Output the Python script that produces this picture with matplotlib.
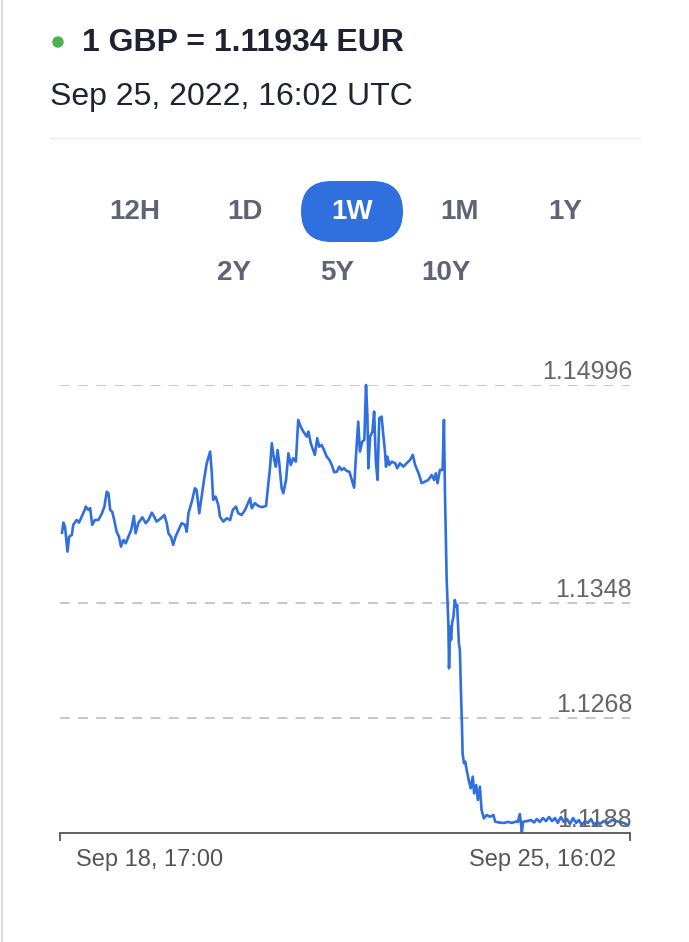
import matplotlib.pyplot as plt
from matplotlib.patches import FancyBboxPatch, Circle

plt.rcParams['font.family'] = ['Liberation Sans', 'DejaVu Sans']

W, H = 689, 942

title = '1 GBP = 1.11934 EUR'
subtitle = 'Sep 25, 2022, 16:02 UTC'
row1 = ['12H', '1D', '1W', '1M', '1Y']
row2 = ['2Y', '5Y', '10Y']
active = '1W'
x_labels = ['Sep 18, 17:00', 'Sep 25, 16:02']
grid_values = [1.14996, 1.1348, 1.1268, 1.1188]
grid_labels = ['1.14996', '1.1348', '1.1268', '1.1188']

# hours since Sep 18, 17:00 UTC
hours = [0.0, 0.4, 0.9, 1.6, 2.1, 2.9, 3.3, 4.3, 5.0, 5.8, 6.6, 7.0, 7.8, 8.3, 8.9, 9.7,
         10.7, 11.7, 12.5, 13.2, 13.7, 14.2, 14.8, 15.4, 16.1, 16.8, 17.4, 18.1, 18.8, 19.6,
         20.4, 21.2, 21.7, 22.5, 23.7, 24.7, 25.5, 26.5, 27.2, 27.9, 29.2, 30.2, 30.9, 31.4,
         32.2, 32.8, 33.5, 34.5, 35.3, 36.3, 36.8, 37.3, 38.3, 39.2, 39.7, 40.5, 41.2, 41.9,
         42.7, 43.7, 44.2, 44.6, 45.3, 46.1, 46.6, 47.6, 48.6, 49.6, 50.4, 51.3, 52.0, 53.0,
         54.0, 55.5, 56.0, 56.9, 57.9, 58.9, 60.2, 60.9, 61.4, 61.9, 62.6, 63.1, 63.6, 64.1,
         64.8, 65.3, 66.1, 66.8, 67.5, 68.2, 69.0, 69.7, 70.4, 71.2, 72.2, 72.7, 73.4, 74.1,
         74.6, 75.3, 75.9, 76.6, 77.3, 78.1, 78.9, 79.6, 80.3, 81.1, 81.8, 82.5, 83.2, 84.0,
         84.8, 85.5, 86.2, 86.7, 87.4, 87.9, 88.6, 89.2, 89.7, 90.1, 90.4, 90.9, 91.6, 92.1,
         92.6, 93.1, 93.6, 94.3, 94.8, 95.3, 95.6, 96.0, 96.6, 97.3, 98.3, 98.9, 99.7, 100.7,
         101.7, 102.7, 103.5, 104.2, 104.8, 105.4, 106.1, 107.1, 108.1, 109.1, 109.8, 110.3,
         110.8, 111.5, 112.3, 112.7, 113.0, 113.5, 114.0, 114.2, 114.5, 114.8, 115.1, 115.5,
         115.9, 116.3, 116.6, 117.1, 117.4, 117.7, 118.0, 118.2, 118.6, 119.0, 119.4, 120.0,
         120.6, 121.2, 121.6, 122.2, 122.7, 123.3, 123.8, 124.5, 125.3, 126.3, 127.3, 127.8,
         129.2, 130.4, 131.6, 132.8, 134.0, 134.5, 135.1, 135.4, 135.7, 136.0, 137.2, 138.4,
         139.3, 140.1, 141.0, 141.9, 142.8, 143.7, 144.6, 145.5, 146.3, 147.2, 148.1, 149.0,
         149.9, 150.8, 151.7, 152.5, 153.4, 154.3, 155.2, 156.1, 157.0, 157.9, 158.7, 159.9,
         161.1, 162.3, 163.5, 164.6, 165.8, 167.0]

rates = [1.13969, 1.14039, 1.14009, 1.13837, 1.13941, 1.13953, 1.14023, 1.14057, 1.14039,
         1.14080, 1.14122, 1.14150, 1.14127, 1.14139, 1.14023, 1.14057, 1.14057, 1.14099,
         1.14150, 1.14254, 1.14243, 1.14127, 1.14115, 1.14057, 1.13976, 1.13941, 1.13872,
         1.13918, 1.13895, 1.13941, 1.13988, 1.14085, 1.13965, 1.14035, 1.14076, 1.14035,
         1.14057, 1.14108, 1.14080, 1.14046, 1.14069, 1.14092, 1.14035, 1.13965, 1.13937,
         1.13884, 1.13941, 1.13993, 1.14035, 1.14023, 1.13976, 1.14104, 1.14185, 1.14278,
         1.14266, 1.14104, 1.14220, 1.14336, 1.14452, 1.14533, 1.14382, 1.14197, 1.14220,
         1.14162, 1.14080, 1.14046, 1.14069, 1.14057, 1.14127, 1.14150, 1.14104, 1.14092,
         1.14127, 1.14208, 1.14139, 1.14174, 1.14155, 1.14146, 1.14155, 1.14313, 1.14428,
         1.14591, 1.14475, 1.14428, 1.14544, 1.14452, 1.14278, 1.14243, 1.14336, 1.14521,
         1.14440, 1.14487, 1.14463, 1.14753, 1.14707, 1.14672, 1.14637, 1.14672, 1.14591,
         1.14544, 1.14510, 1.14626, 1.14567, 1.14579, 1.14544, 1.14498, 1.14475, 1.14440,
         1.14389, 1.14393, 1.14428, 1.14405, 1.14417, 1.14398, 1.14393, 1.14336, 1.14282,
         1.14487, 1.14741, 1.14533, 1.14602, 1.14614, 1.14996, 1.14788, 1.14417, 1.14637,
         1.14672, 1.14811, 1.14463, 1.14336, 1.14765, 1.14776, 1.14649, 1.14533, 1.14428,
         1.14498, 1.14440, 1.14463, 1.14452, 1.14417, 1.14452, 1.14428, 1.14452, 1.14475,
         1.14510, 1.14440, 1.14405, 1.14370, 1.14313, 1.14324, 1.14336, 1.14370, 1.14336,
         1.14382, 1.14313, 1.14405, 1.14405, 1.14753, 1.14243, 1.13640, 1.13339, 1.13026,
         1.13315, 1.13223, 1.13339, 1.13385, 1.13501, 1.13454, 1.13466, 1.13200, 1.13153,
         1.12875, 1.12643, 1.12434, 1.12365, 1.12376, 1.12318, 1.12249, 1.12191, 1.12272,
         1.12156, 1.12214, 1.12110, 1.12202, 1.12040, 1.11982, 1.12005, 1.11993, 1.12005,
         1.11959, 1.11952, 1.11950, 1.11957, 1.11950, 1.11960, 1.11957, 1.12012, 1.11950,
         1.11887, 1.11957, 1.11963, 1.11970, 1.11953, 1.11977, 1.11957, 1.11984, 1.11963,
         1.11991, 1.11963, 1.11984, 1.11950, 1.11991, 1.11957, 1.11977, 1.11943, 1.11984,
         1.11950, 1.11970, 1.11936, 1.11963, 1.11950, 1.11977, 1.11936, 1.11957, 1.11943,
         1.11963, 1.11950, 1.11970, 1.11963, 1.11957, 1.11950, 1.11934]

blue = '#2f6fde'
dark = '#1e2232'
btn_gray = '#5e6376'

fig = plt.figure(figsize=(W / 100, H / 100), dpi=100)

# overlay in pixel units for the header part
bg = fig.add_axes([0, 0, 1, 1])
bg.set_xlim(0, W)
bg.set_ylim(H, 0)
bg.axis('off')

bg.plot([1.5, 1.5], [0, H], color='#dddddd', lw=1.5)
bg.add_patch(Circle((58, 42), 5, color='#4caf50'))
bg.text(82, 43, title, fontsize=23, fontweight='bold', color=dark, va='center')
bg.text(50, 97, subtitle, fontsize=23, color=dark, va='center')
bg.plot([50, 640], [138, 138], color='#eeeeee', lw=1)

# period buttons
bg.add_patch(FancyBboxPatch((301, 181), 102, 61, boxstyle='round,pad=0,rounding_size=30.5',
                            fc=blue, ec='none'))
for lab, x in zip(row1, [135, 245, 352, 460, 565]):
    bg.text(x, 212, lab, fontsize=20, fontweight='bold', ha='center', va='center',
            color='white' if lab == active else btn_gray)
for lab, x in zip(row2, [234, 337, 446]):
    bg.text(x, 273, lab, fontsize=20, fontweight='bold', ha='center', va='center', color=btn_gray)

# the chart
ax = fig.add_axes([60 / W, (H - 833) / H, 570 / W, 448 / H])
ax.patch.set_alpha(0)
ax.set_xlim(-0.6, 167.6)
ax.set_ylim(grid_values[-1], grid_values[0])

for v, lab in zip(grid_values, grid_labels):
    if v != grid_values[-1]:
        ax.axhline(v, color='#c8c8c8', lw=1.5, dashes=(4.7, 4), zorder=1)
    ax.annotate(lab, xy=(1, v), xycoords=('axes fraction', 'data'), xytext=(1.5, 4.5),
                textcoords='offset points', ha='right', va='baseline', fontsize=18,
                color='#666666', zorder=3)

ax.plot(hours, rates, color=blue, lw=1.9, clip_on=False, zorder=2)

for s in ['top', 'left', 'right']:
    ax.spines[s].set_visible(False)
ax.spines['bottom'].set_color('#555555')
ax.spines['bottom'].set_linewidth(1.3)
ax.set_yticks([])
ax.set_xticks([-0.6, 167.6])
ax.set_xticklabels([])
ax.tick_params(axis='x', direction='out', length=6, width=1.3, color='#555555')

bg.text(76, 860, x_labels[0], fontsize=17, color='#555555', va='center', ha='left')
bg.text(616, 860, x_labels[1], fontsize=17, color='#555555', va='center', ha='right')

fig.savefig('out.png', dpi=100)
